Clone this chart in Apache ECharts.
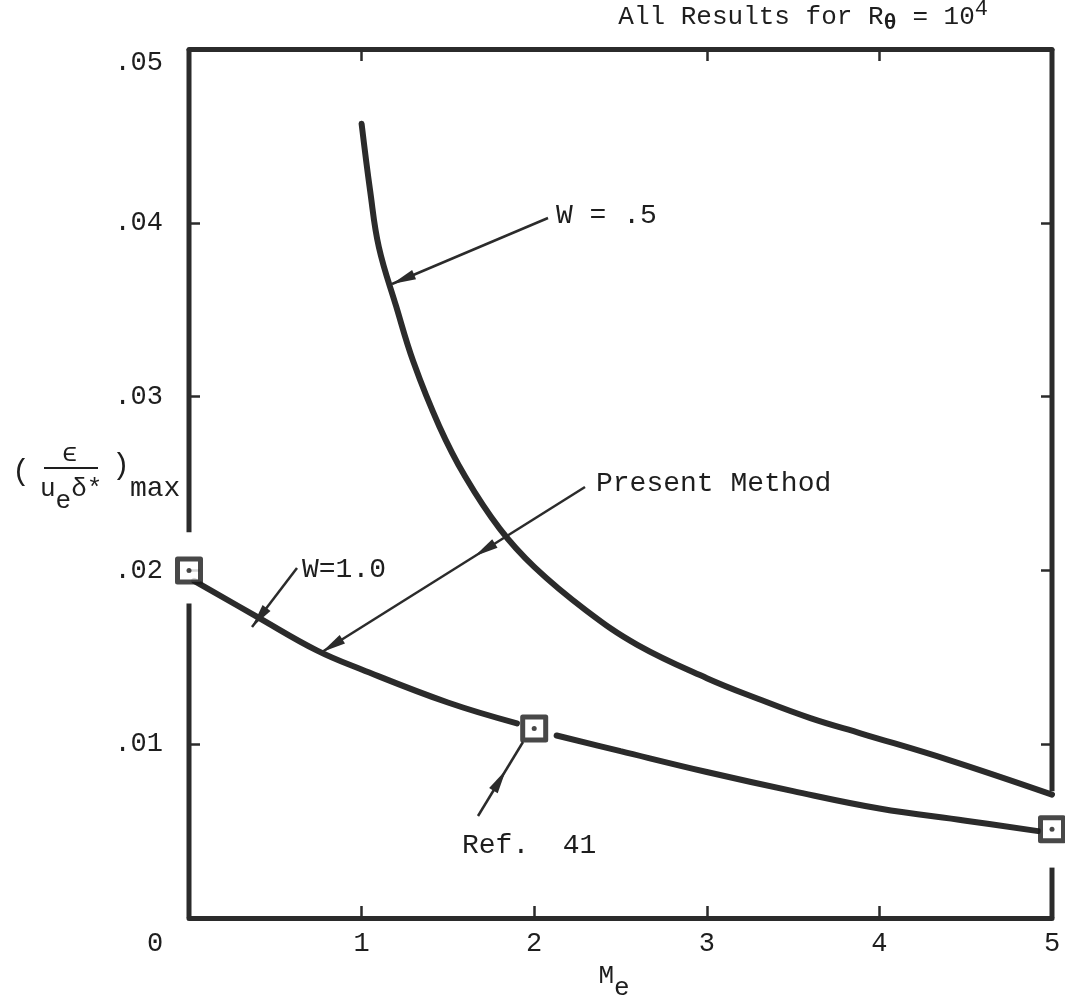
<!DOCTYPE html>
<html>
<head>
<meta charset="utf-8">
<script src="https://cdn.jsdelivr.net/npm/echarts@6/dist/echarts.min.js"></script>
<style>
  html, body { margin: 0; padding: 0; background: #fff; }
  #chart { width: 1065px; height: 1004px; }
</style>
</head>
<body>
<div id="chart"></div>
<script>
// Maximum eddy viscosity vs. edge Mach number, R_theta = 1e4
const w05Mach = [1.0, 1.05, 1.1, 1.2, 1.3, 1.45, 1.6, 1.8, 2.0, 2.3, 2.6, 3.0, 3.3, 3.6, 3.9, 4.4, 5.0];
const w05Eps  = [0.0457, 0.0418, 0.0386, 0.0352, 0.0320, 0.0283, 0.0254, 0.0224, 0.0202, 0.0177, 0.0157, 0.0138, 0.0126, 0.0115, 0.0106, 0.0091, 0.0071];

// W = 1.0 curve, drawn in two pieces around the Ref. 41 point at M = 2
const w10MachA = [0.03, 0.4, 0.74, 1.0, 1.5, 1.9];
const w10EpsA  = [0.0194, 0.0173, 0.0154, 0.0143, 0.0124, 0.0112];
const w10MachB = [2.13, 2.5, 3.0, 3.5, 4.0, 4.5, 4.92];
const w10EpsB  = [0.0105, 0.0096, 0.0084, 0.0073, 0.0063, 0.0056, 0.0050];

// Ref. 41 points
const refMach = [0, 2, 5];
const refEps  = [0.0200, 0.0109, 0.0051];

// Axis ticks
const xTicks = [0, 1, 2, 3, 4, 5];
const xBottomTicks = [1, 2, 3, 4];
const xTopTicks = [1, 3, 4];
const yTicks = [0.01, 0.02, 0.03, 0.04];

// Breaks in the side frame lines (value ranges left open)
const leftFrameGap = [0.0181, 0.0222];
const rightFrameGap = [0.0029, 0.0073];

const FONT = '"Liberation Mono", "DejaVu Sans Mono", monospace';
const INK = '#2b2b2b';
const TXT = '#1e1e1e';

const zip = (xs, ys) => xs.map((x, i) => [x, ys[i]]);

const chart = echarts.init(document.getElementById('chart'), null, { renderer: 'canvas' });

function frameSeries(pts) {
  return {
    type: 'line', data: pts, symbol: 'none', silent: true, clip: false,
    lineStyle: { color: INK, width: 5 }, z: 1, animation: false
  };
}
function curve(name, pts) {
  return {
    name, type: 'line', data: pts, smooth: 0.4, symbol: 'none', clip: false,
    lineStyle: { color: INK, width: 6, cap: 'round' }, z: 3
  };
}
const tickStyle = { color: INK, width: 2.5 };

const option = {
  animation: false,
  backgroundColor: '#fff',
  grid: { left: 189, right: 13, top: 49, bottom: 86 },
  xAxis: [
    {
      type: 'value', position: 'bottom', min: 0, max: 5, interval: 1,
      axisLine: { show: true, onZero: false, lineStyle: { color: INK, width: 5 } },
      axisTick: { show: true, inside: true, length: 12, customValues: xBottomTicks, lineStyle: tickStyle },
      splitLine: { show: false },
      axisLabel: {
        show: true, margin: 12, color: TXT, fontFamily: FONT, fontSize: 27,
        customValues: xTicks,
        formatter: v => v === 0 ? '{o|0}' : String(v),
        rich: { o: { fontFamily: FONT, fontSize: 27, color: TXT, padding: [0, 68, 0, 0] } }
      }
    },
    {
      type: 'value', position: 'top', min: 0, max: 5, interval: 1,
      axisLine: { show: true, onZero: false, lineStyle: { color: INK, width: 5 } },
      axisTick: { show: true, inside: true, length: 12, customValues: xTopTicks, lineStyle: tickStyle },
      axisLabel: { show: false },
      splitLine: { show: false }
    }
  ],
  yAxis: [
    {
      type: 'value', position: 'left', min: 0, max: 0.05, interval: 0.01,
      axisLine: { show: false, onZero: false },
      axisTick: { show: true, inside: true, length: 11, customValues: yTicks, lineStyle: tickStyle },
      splitLine: { show: false },
      axisLabel: {
        show: true, margin: 26, color: TXT, fontFamily: FONT, fontSize: 27,
        formatter: v => {
          if (v === 0) return '';
          const s = '.' + String(Math.round(v * 100)).padStart(2, '0');
          return v >= 0.05 ? '{t|' + s + '}' : s;
        },
        rich: { t: { fontFamily: FONT, fontSize: 27, color: TXT, padding: [28, 0, 0, 0] } }
      }
    },
    {
      type: 'value', position: 'right', min: 0, max: 0.05, interval: 0.01,
      axisLine: { show: false, onZero: false },
      axisTick: { show: true, inside: true, length: 11, customValues: yTicks, lineStyle: tickStyle },
      axisLabel: { show: false },
      splitLine: { show: false }
    }
  ],
  series: [
    frameSeries([[0, 0], [0, leftFrameGap[0]]]),
    frameSeries([[0, leftFrameGap[1]], [0, 0.05]]),
    frameSeries([[5, 0], [5, rightFrameGap[0]]]),
    frameSeries([[5, rightFrameGap[1]], [5, 0.05]]),
    curve('W = .5', zip(w05Mach, w05Eps)),
    curve('W = 1.0', zip(w10MachA, w10EpsA)),
    curve('W = 1.0 (M > 2)', zip(w10MachB, w10EpsB)),
    {
      name: 'Ref. 41', type: 'scatter', data: zip(refMach, refEps), clip: false,
      symbol: 'rect', symbolSize: 23,
      itemStyle: { color: '#fff', borderColor: '#1a1a1a', borderWidth: 5, borderJoin: 'round' }, z: 5
    },
    {
      name: 'Ref. 41 centre', type: 'scatter', data: zip(refMach, refEps), clip: false,
      symbol: 'circle', symbolSize: 5, itemStyle: { color: '#1a1a1a' }, z: 6, silent: true
    }
  ]
};

chart.setOption(option);

// ---- annotations: labels and leader arrows ----
function arrowHead(tx, ty, fx, fy, len, half) {
  const dx = tx - fx, dy = ty - fy, n = Math.hypot(dx, dy);
  const ux = dx / n, uy = dy / n;
  const bx = tx - ux * len, by = ty - uy * len;
  return {
    type: 'polygon', z: 20,
    shape: { points: [[tx, ty], [bx - uy * half, by + ux * half], [bx + uy * half, by - ux * half]] },
    style: { fill: INK }
  };
}
function leader(x1, y1, x2, y2, heads) {
  const els = [{
    type: 'line', z: 20,
    shape: { x1, y1, x2, y2 },
    style: { stroke: INK, lineWidth: 2.5 }
  }];
  heads.forEach(t => {
    const hx = x1 + (x2 - x1) * t, hy = y1 + (y2 - y1) * t;
    els.push(arrowHead(hx, hy, x1, y1, 24, 5));
  });
  return els;
}
function label(text, x, y, opts) {
  return {
    type: 'text', z: 20, x, y,
    style: Object.assign({ text, fill: TXT, font: '28px ' + FONT, textVerticalAlign: 'middle' }, opts || {})
  };
}

const graphics = [];
graphics.push(...leader(548, 218, 392, 284, [1]));
graphics.push(label('W = .5', 556, 216));
graphics.push(...leader(297, 568, 252, 627, [1]));
graphics.push(label('W=1.0', 302, 570));
graphics.push(...leader(585, 487, 322, 652, [0.42, 1]));
graphics.push(label('Present Method', 596, 484));
graphics.push(...leader(478, 816, 523, 742, [0.62]));
graphics.push(label('Ref.  41', 462, 846));

// title line
graphics.push({
  type: 'text', z: 20, x: 988, y: 17,
  style: {
    text: 'All Results for R{s|θ} = 10{p|4}',
    textAlign: 'right', textVerticalAlign: 'middle',
    font: '26px ' + FONT, fill: TXT,
    rich: {
      s: { font: 'bold 22px ' + FONT, fill: TXT, padding: [12, 0, 0, 0] },
      p: { font: '22px ' + FONT, fill: TXT, padding: [0, 0, 16, 0] }
    }
  }
});

// x-axis name
graphics.push({
  type: 'text', z: 20, x: 614, y: 976,
  style: {
    text: 'M{s|e}', textAlign: 'center', textVerticalAlign: 'middle',
    font: '26px ' + FONT, fill: TXT,
    rich: { s: { font: '26px ' + FONT, fill: TXT, padding: [24, 0, 0, 0] } }
  }
});

// y-axis name: ( eps / (u_e delta*) )_max
graphics.push(label('(', 12, 472, { font: '30px ' + FONT }));
graphics.push(label('ϵ', 62, 454, { font: '26px ' + FONT }));
graphics.push({
  type: 'line', z: 20, shape: { x1: 44, y1: 468, x2: 98, y2: 468 },
  style: { stroke: TXT, lineWidth: 2 }
});
graphics.push({
  type: 'text', z: 20, x: 40, y: 489,
  style: {
    text: 'u{s|e}δ*', textVerticalAlign: 'middle', font: '26px ' + FONT, fill: TXT,
    rich: { s: { font: '26px ' + FONT, fill: TXT, padding: [24, 0, 0, 0] } }
  }
});
graphics.push(label(')', 112, 466, { font: '30px ' + FONT }));
graphics.push(label('max', 130, 489));

chart.setOption({ graphic: { elements: graphics } });
</script>
</body>
</html>
